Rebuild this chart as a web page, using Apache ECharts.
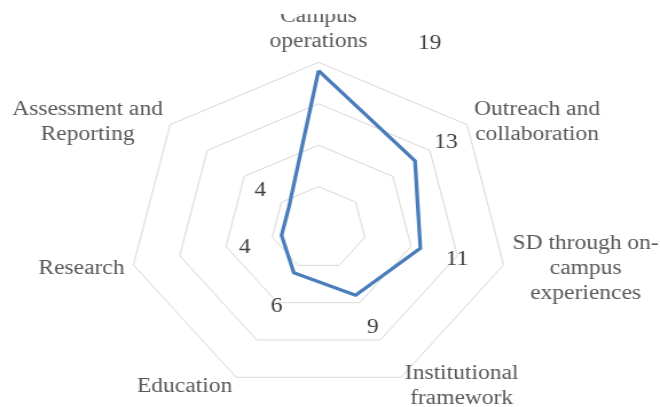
<!DOCTYPE html>
<html>
<head>
<meta charset="utf-8">
<script src="https://cdn.jsdelivr.net/npm/echarts@6/dist/echarts.min.js"></script>
<style>
html,body{margin:0;padding:0;background:#fff;overflow:hidden;}
#wrap{width:660px;height:407px;overflow:hidden;position:relative;background:#fff;clip-path:inset(14px 0 0 0);}
#chart{width:576px;height:407px;transform:scaleX(1.1458);transform-origin:0 0;}
</style>
</head>
<body>
<div id="wrap"><div id="chart"></div></div>
<script>
// Categories in clockwise order starting from the top
const categories = [
  'Campus\noperations',
  'Outreach and\ncollaboration',
  'SD through on-\ncampus\nexperiences',
  'Institutional\nframework',
  'Education',
  'Research',
  'Assessment and\nReporting'
];
const values = [19, 13, 11, 9, 6, 4, 4];
const axisMin = 0;
const axisMax = 20;
const ringCount = 4;

// value-label offsets from each point (layout only)
const labelOffsets = [[97, -27], [27, -18], [32, 11], [15, 32], [-15, 34], [-32, 12], [-25, -17]];

const FONT = '"Liberation Serif","Times New Roman",serif';
const FS = 20.5;
const n = categories.length;
// ECharts radar runs counter-clockwise; map to clockwise order
const order = categories.map((_, j) => (n - j) % n);

const indicator = order.map(k => ({ name: categories[k], min: axisMin, max: axisMax }));
const orderedValues = order.map(k => values[k]);

const labelSeries = categories.map((_, k) => ({
  type: 'radar',
  silent: true,
  z: 3,
  symbol: 'circle',
  symbolSize: 2,
  itemStyle: { color: 'rgba(0,0,0,0)' },
  lineStyle: { opacity: 0, width: 0 },
  data: [{
    value: order.map(i => (i === k ? values[i] : '-')),
    label: {
      show: true,
      position: 'inside',
      offset: labelOffsets[k],
      color: '#404040',
      fontFamily: FONT,
      fontSize: FS,
      formatter: p => (p.value === '-' || p.value == null || isNaN(p.value)) ? '' : String(p.value)
    }
  }]
}));

const chart = echarts.init(document.getElementById('chart'), null, { renderer: 'canvas' });
chart.setOption({
  animation: false,
  backgroundColor: '#fff',
  radar: {
    center: [278, 228],
    radius: 165.7,
    startAngle: 90,
    splitNumber: ringCount,
    shape: 'polygon',
    nameGap: 8,
    indicator: indicator,
    axisName: {
      color: '#595959',
      fontFamily: FONT,
      fontSize: FS,
      lineHeight: 25,
      padding: [4, 0, 0, 0],
      formatter: name => name.split('\n').map(s => '{c|' + s + '}').join('\n'),
      rich: {
        c: { align: 'center', color: '#595959', fontFamily: FONT, fontSize: FS, lineHeight: 25 }
      }
    },
    axisLine: { show: false },
    axisTick: { show: false },
    axisLabel: { show: false },
    splitArea: { show: false },
    splitLine: { lineStyle: { color: '#D9D9D9', width: 1 } }
  },
  series: [{
    type: 'radar',
    silent: true,
    z: 2,
    symbol: 'none',
    lineStyle: { color: '#4A7EBB', width: 3.3 },
    data: [{ value: orderedValues }]
  }].concat(labelSeries)
});
</script>
</body>
</html>
